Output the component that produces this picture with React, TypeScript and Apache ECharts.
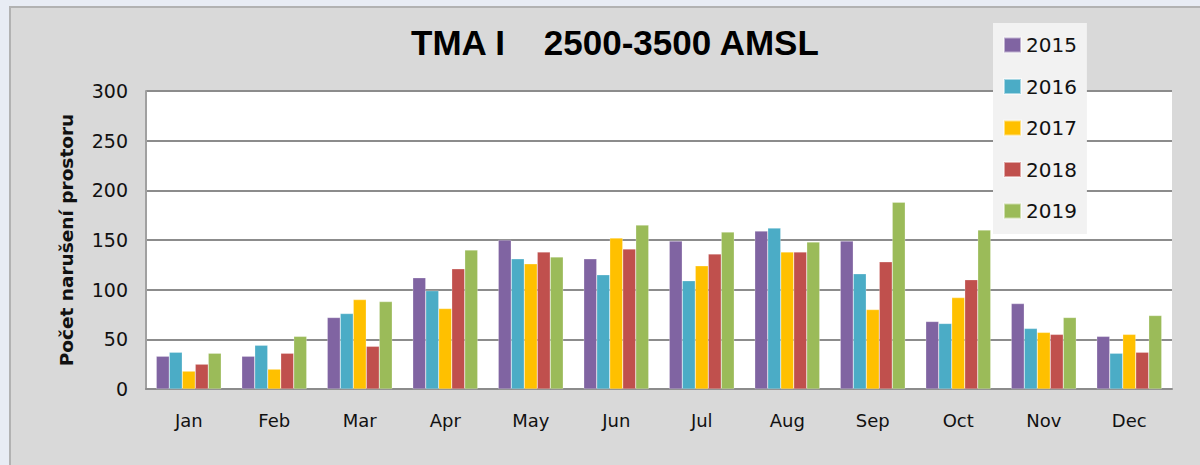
import React, { useEffect, useRef } from "react";
import * as echarts from "echarts";

const months = ["Jan", "Feb", "Mar", "Apr", "May", "Jun", "Jul", "Aug", "Sep", "Oct", "Nov", "Dec"];
const years = ["2015", "2016", "2017", "2018", "2019"];
const v2015 = [33, 33, 72, 112, 150, 131, 149, 159, 149, 68, 86, 53];
const v2016 = [37, 44, 76, 99, 131, 115, 109, 162, 116, 66, 61, 36];
const v2017 = [18, 20, 90, 81, 126, 152, 124, 138, 80, 92, 57, 55];
const v2018 = [25, 36, 43, 121, 138, 141, 136, 138, 128, 110, 55, 37];
const v2019 = [36, 53, 88, 140, 133, 165, 158, 148, 188, 160, 72, 74];
const colors = ["#8064a2", "#4bacc6", "#ffc000", "#c0504d", "#9bbb59"];
const yTicks = [0, 50, 100, 150, 200, 250, 300];

export default function App() {
  const ref = useRef<HTMLDivElement>(null);
  useEffect(() => {
    if (!ref.current) return;
    const chart = echarts.init(ref.current, undefined, { renderer: "svg" });
    const seriesData = [v2015, v2016, v2017, v2018, v2019];
    chart.setOption({
      animation: false,
      title: {
        text: "TMA I    2500-3500 AMSL",
        left: 411,
        top: 25,
        padding: 0,
        textStyle: { fontFamily: "Liberation Sans", fontWeight: "bold", fontSize: 35, color: "#000" },
      },
      legend: {
        orient: "vertical",
        left: 993,
        top: 23,
        width: 93,
        padding: [12, 10, 13, 10],
        backgroundColor: "#f2f2f2",
        itemWidth: 17,
        itemHeight: 15,
        itemGap: 21.5,
        icon: "rect",
        data: years,
        textStyle: { fontFamily: "DejaVu Sans", fontSize: 20, color: "#111", padding: [0, 0, 0, 0] },
      },
      grid: {
        left: 146,
        right: 28,
        top: 91,
        bottom: 76,
        show: true,
        backgroundColor: "#ffffff",
        borderWidth: 0,
      },
      xAxis: {
        type: "category",
        data: months,
        axisLine: { show: true, lineStyle: { color: "#8c8c8c", width: 2 } },
        axisTick: { show: false },
        axisLabel: { fontFamily: "DejaVu Sans", fontSize: 18, color: "#111", margin: 22 },
      },
      yAxis: {
        type: "value",
        min: yTicks[0],
        max: yTicks[yTicks.length - 1],
        interval: 50,
        name: "Počet narušení prostoru",
        nameLocation: "middle",
        nameGap: 70,
        nameTextStyle: { fontFamily: "DejaVu Sans", fontWeight: "bold", fontSize: 18.5, color: "#111" },
        axisLine: { show: true, lineStyle: { color: "#a0a0a0", width: 2 } },
        axisTick: { show: false },
        axisLabel: { fontFamily: "DejaVu Sans", fontSize: 19, color: "#111", margin: 18 },
        splitLine: { show: true, lineStyle: { color: "#8c8c8c", width: 2 } },
      },
      series: years.map((y, i) => ({
        name: y,
        type: "bar",
        data: seriesData[i],
        barGap: "0%",
        barCategoryGap: "24%",
        itemStyle: { color: colors[i], borderColor: "rgba(255,255,255,0.5)", borderWidth: 0.5 },
      })),
    });
    return () => chart.dispose();
  }, []);
  return (
    <div style={{ position: "fixed", left: 0, top: 0, width: 1200, height: 465, background: "#e8ecf4", overflow: "hidden" }}>
      <div
        style={{
          position: "absolute",
          left: 9,
          top: 6,
          width: 1200,
          height: 470,
          background: "#d9d9d9",
          border: "2px solid #b2b2b2",
        }}
      />
      <div ref={ref} style={{ position: "absolute", left: 0, top: 0, width: 1200, height: 465 }} />
    </div>
  );
}
